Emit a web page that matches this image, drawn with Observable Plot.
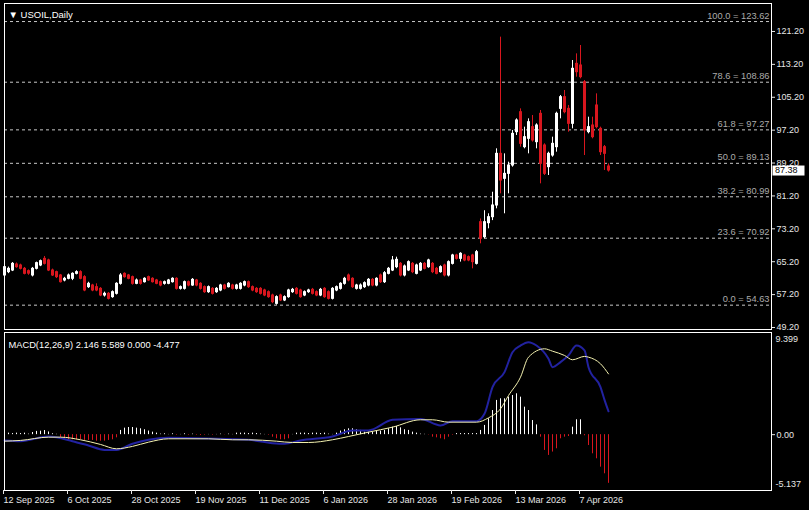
<!DOCTYPE html>
<html><head><meta charset="utf-8">
<script src="https://cdn.jsdelivr.net/npm/d3@7"></script>
<script src="https://cdn.jsdelivr.net/npm/@observablehq/plot@0.6"></script>
<style>
html,body{margin:0;padding:0;background:#000;}
#wrap{position:relative;width:809px;height:510px;background:#000;overflow:hidden;}
#wrap svg{display:block;}
</style></head><body><div id="wrap"></div>
<script>
// ---- data (daily bars, index 0 = 12 Sep 2025) ----
const openP = [61.85,62.66,63.06,64.52,64.28,63.47,62.9,61.85,63.47,64.28,65.9,65.5,63.06,62.66,61.85,60.63,61.04,61.04,62.25,62.66,
61.44,59.01,59.41,59.01,58.6,56.98,57.39,56.58,57.39,59.82,62.25,61.85,61.44,59.82,60.63,60.22,61.44,61.04,60.63,60.22,
59.82,59.82,60.22,61.04,58.6,58.6,60.22,59.41,60.63,59.82,59.01,57.79,58.6,57.79,58.2,59.41,59.01,59.41,58.6,58.6,
59.41,60.22,59.01,58.6,58.6,58.2,57.79,56.98,54.95,56.98,55.77,56.58,57.79,58.6,58.2,56.98,57.79,58.36,57.79,56.98,
58.6,57.79,56.17,58.2,58.6,59.82,61.85,61.04,58.6,58.6,59.01,59.41,60.79,59.41,61.85,60.22,62.25,63.06,63.87,64.68,
61.85,63.06,64.68,62.25,63.06,64.68,63.87,64.68,63.47,62.66,64.28,61.85,64.68,66.71,65.9,66.71,66.31,66.71,64.68,74.82,
71.17,74.57,76.03,78.87,91.44,85.36,86.57,88.6,96.71,101.57,93.06,95.09,97.93,94.28,101.17,93.47,88.2,91.03,93.06,102.38,
105.22,102.38,98.74,113.33,112.93,108.87,96.71,98.33,103.2,97.52,93.06,88.36];
const highP = [64.2,63.9,65.0,64.9,64.6,63.8,63.2,63.8,65.1,65.6,66.47,65.8,63.4,62.9,62.1,61.4,62.2,62.5,63.0,63.0,
61.8,60.2,59.7,59.82,58.9,57.8,57.7,58.1,60.1,62.3,62.5,62.1,61.7,61.0,60.9,61.3,61.7,61.3,60.9,60.5,
60.5,60.9,61.3,61.3,59.3,60.5,60.5,61.1,60.9,60.1,59.3,59.3,58.9,58.9,59.7,59.7,60.1,59.7,59.7,60.1,
60.5,60.5,59.3,58.9,58.9,58.5,58.1,57.3,56.9,57.3,56.9,58.5,58.7,58.9,58.5,58.1,58.5,58.7,58.1,58.7,
58.9,58.1,58.9,59.3,60.1,61.4,62.2,61.3,59.7,59.8,60.3,61.1,61.1,61.3,62.2,62.8,63.8,66.47,66.3,65.0,
64.4,65.4,65.0,64.6,65.0,65.0,65.8,65.0,63.8,64.2,64.6,65.4,67.0,67.0,67.4,67.0,66.6,67.0,67.93,75.6,
77.6,76.85,82.1,92.66,119.82,91.44,89.41,97.12,99.95,102.38,97.93,99.95,100.76,98.74,101.98,93.87,91.84,95.49,101.57,105.63,
106.85,103.2,114.14,115.76,117.79,109.28,100.36,100.36,106.03,97.93,93.47,89.0];
const lowP = [61.5,62.3,62.8,63.6,63.2,62.0,61.9,61.5,63.2,64.0,64.4,62.8,61.6,61.1,60.0,60.3,60.8,60.6,62.0,60.8,
57.9,58.7,57.9,57.9,56.7,56.6,55.9,56.3,57.1,59.5,61.2,60.8,59.5,59.6,59.5,60.0,60.4,60.0,59.6,59.1,
59.5,59.6,60.0,58.3,58.3,58.3,59.1,59.2,59.1,58.3,57.5,57.5,57.1,57.5,57.9,58.3,58.8,58.3,58.3,58.3,
59.1,58.7,57.9,57.5,57.1,56.7,56.3,55.0,54.63,55.5,55.5,56.3,57.5,57.1,56.3,56.7,57.5,57.1,56.7,56.7,
56.3,55.9,55.9,57.9,58.3,59.5,60.3,58.7,58.3,58.3,58.7,59.1,59.1,59.1,59.9,59.9,62.0,62.8,63.5,61.5,
61.5,62.8,62.3,62.0,62.8,63.2,63.6,62.3,62.0,62.4,61.5,61.5,64.4,65.6,65.1,65.2,65.2,63.47,64.4,69.55,
70.76,73.2,75.2,78.06,81.71,76.85,81.71,88.2,95.9,93.06,92.66,91.44,94.28,92.66,84.14,86.17,86.17,90.63,91.84,99.95,
101.17,96.71,97.52,110.09,109.68,91.03,96.3,95.09,97.52,91.03,87.39,87.0];
const closeP = [63.87,63.47,64.68,63.87,63.47,62.25,62.3,63.47,64.85,65.33,64.68,63.06,61.85,61.44,60.22,61.04,61.85,62.25,62.66,61.04,
58.2,59.82,58.2,58.2,56.98,57.39,56.17,57.79,59.82,61.85,61.44,61.04,59.82,60.63,59.82,61.04,60.63,60.22,59.82,59.41,
60.22,60.63,61.04,58.6,59.01,60.22,59.41,60.79,59.41,58.6,57.79,59.01,57.39,58.6,59.41,58.6,59.82,58.6,59.41,59.82,
60.22,59.01,58.2,57.79,57.39,56.98,56.58,55.36,56.58,55.77,56.58,58.2,58.36,57.39,56.58,57.79,58.2,57.39,56.98,58.36,
56.58,56.17,58.6,59.01,59.82,61.04,60.63,59.01,59.41,59.41,59.98,60.79,59.41,61.04,60.22,62.41,63.47,65.5,65.66,61.85,
64.04,65.09,62.66,64.28,64.68,63.47,65.5,62.66,62.25,63.87,61.85,65.09,66.71,65.9,67.12,65.5,65.5,65.09,67.52,70.76,
74.82,76.03,78.87,91.44,84.95,86.57,88.6,96.3,99.55,93.87,95.49,99.14,94.68,98.33,89.01,86.57,91.44,93.87,101.17,105.22,
101.57,98.74,112.12,111.3,110.09,97.12,97.93,95.49,97.93,91.84,91.44,87.38];

// MACD histogram, one value per bar
const macdHist = [0,0.14,0.1,0.14,0.1,0.14,0.05,0.2,0.3,0.32,0.38,0.25,0.08,0.03,-0.29,-0.38,-0.47,-0.47,-0.47,-0.47,
-0.53,-0.53,-0.53,-0.6,-0.6,-0.6,-0.53,-0.47,-0.29,0.39,0.6,0.66,0.66,0.6,0.54,0.45,0.33,0.23,0.14,0.05,
0.08,0.02,0.08,-0.05,0.02,0.08,-0.05,0.05,-0.05,-0.08,-0.05,0.02,-0.05,0.02,0.05,-0.02,0.05,0.02,0.14,0.14,
0.14,0.1,0.14,0.1,0.05,0.02,-0.05,-0.23,-0.38,-0.47,-0.47,-0.38,0.02,0.14,0.14,0.14,0.1,0.14,0.14,0.1,
0.14,0.05,0.02,0.14,0.33,0.45,0.54,0.54,0.45,0.39,0.23,0.23,0.23,0.33,0.33,0.39,0.54,0.69,0.75,0.63,
0.45,0.39,0.23,0.14,0.05,0.03,-0.03,-0.23,-0.29,-0.38,-0.47,-0.23,-0.05,0.1,0.1,0.1,0.1,0.1,0.1,0.39,
0.85,1.46,2.22,3.15,3.3,3.3,3.45,3.6,3.76,3.45,2.53,2.22,1.3,0.9,-0.23,-1.45,-1.91,-1.6,-1.3,-0.38,
-0.23,-0.17,0.69,1.37,1.37,-0.1,-1.0,-1.76,-2.22,-2.99,-3.6,-4.477];
// MACD main line (read at these bars)
const mainIdx = [0,4,11,17,21,25,28,32,36,41,51,61,67,70,74,82,87,91,97,104,109,112,118,120,122,125,127,129,131,133,136,137,139,141,143,145,146,149,150,151];
const mainVal = [-0.53,-0.6,-0.17,-0.6,-1.0,-1.4,-1.4,-0.84,-0.47,-0.29,-0.35,-0.47,-0.78,-0.84,-0.53,-0.17,0.39,0.39,1.37,1.45,0.85,1.24,1.24,1.92,4.37,5.75,7.59,8.2,8.51,8.2,6.98,6.21,6.67,7.29,8.2,7.75,6.21,4.37,3.2,2.146];
// MACD signal line (read at these bars)
const sigIdx = [0,4,11,14,19,24,28,32,36,41,51,57,61,68,72,76,82,86,91,97,104,107,111,118,121,124,126,129,131,135,137,140,142,145,146,149,151];
const sigVal = [-0.6,-0.53,-0.23,-0.23,-0.47,-0.9,-1.3,-1.08,-0.69,-0.38,-0.38,-0.47,-0.47,-0.6,-0.72,-0.72,-0.47,-0.17,0.23,0.69,1.37,1.37,1.15,1.15,1.55,2.38,3.6,5.29,7.13,7.9,7.68,7.29,6.89,7.2,7.13,6.52,5.589];

const fibLevels = ["100.0","78.6","61.8","50.0","38.2","23.6","0.0"];
const fibValues = [123.62,108.86,97.27,89.13,80.99,70.92,54.63];
const priceTicks = [49.2,57.2,65.2,73.2,81.2,89.2,97.2,105.2,113.2,121.2];
const timeTickIdx = [0,16,32,48,64,80,96,112,128,144];
const timeTickLabels = ["12 Sep 2025","6 Oct 2025","28 Oct 2025","19 Nov 2025","11 Dec 2025","6 Jan 2026","28 Jan 2026","19 Feb 2026","13 Mar 2026","7 Apr 2026"];
const symbolTitle = "USOIL,Daily";
const macdTitle = "MACD(12,26,9) 2.146 5.589 0.000 -4.477";
const macdMax = 9.399, macdMin = -5.137;
const lastPrice = 87.38;

// ---- build ----
const UP = "#ffffff", DN = "#d8161e";
const bars = openP.map((o, i) => ({i, open: o, high: highP[i], low: lowP[i], close: closeP[i], up: closeP[i] >= o}));
const fibs = fibLevels.map((l, k) => ({level: l, value: fibValues[k]}));
const hist = macdHist.map((v, i) => ({i, v}));
const mainLine = mainIdx.map((i, k) => ({i, v: mainVal[k]}));
const sigLine = sigIdx.map((i, k) => ({i, v: sigVal[k]}));
const labelMap = new Map(timeTickIdx.map((d, k) => [d, timeTickLabels[k]]));
const xDomain = [0, 191.75];
const FONT = "'Liberation Sans', Arial, sans-serif";

const wrap = document.getElementById("wrap");

const main = Plot.plot({
  width: 809, height: 331,
  marginLeft: 4, marginRight: 38, marginTop: 3, marginBottom: 2,
  style: {background: "#000", color: "#e6e6e6", fontFamily: FONT, fontSize: "9px", overflow: "visible"},
  x: {domain: xDomain, axis: null},
  y: {domain: [48.71, 127.52], range: [329, 5], axis: null},
  marks: [
    Plot.ruleY(fibs, {y: "value", stroke: "#c8c8c8", strokeDasharray: "3,3", strokeWidth: 1}),
    Plot.text(fibs, {y: "value", text: d => `${d.level} = ${d.value.toFixed(2)}`, frameAnchor: "right", textAnchor: "end", dx: -2, dy: -6, fill: "#ababab", fontSize: 9.3}),
    Plot.ruleX(bars, {x: "i", y1: "low", y2: "high", stroke: d => d.up ? UP : DN, strokeWidth: 1}),
    Plot.rect(bars, {x1: d => d.i - 0.25, x2: d => d.i + 0.5, y1: d => Math.min(d.open, d.close), y2: d => Math.max(d.open, d.close), fill: d => d.up ? UP : DN, insetTop: -0.5, insetBottom: -0.5}),
    Plot.frame({stroke: "#ffffff"}),
    Plot.axisY({anchor: "right", ticks: priceTicks, tickFormat: d => d.toFixed(2), tickSize: 3, tickPadding: 2, fontSize: 9, label: null}),
    Plot.text([symbolTitle], {text: d => "\u25BC " + d, frameAnchor: "top-left", textAnchor: "start", dx: 4, dy: 8, fill: "#ffffff", fontSize: 9.5})
  ]
});
wrap.appendChild(main);

// current price box, positioned with the plot's own y scale
const py = main.scale("y").apply(lastPrice);
const sel = d3.select(main);
sel.append("rect").attr("x", 772.5).attr("y", py - 4.5).attr("width", 32).attr("height", 10).attr("fill", "#ffffff");
sel.append("text").attr("x", 775).attr("y", py + 0.5).attr("dy", "0.32em").attr("text-anchor", "start").attr("fill", "#000").attr("font-size", 9).attr("font-family", FONT).text(lastPrice.toFixed(2));

const macd = Plot.plot({
  width: 809, height: 179,
  marginLeft: 4, marginRight: 38, marginTop: 1, marginBottom: 20,
  style: {background: "#000", color: "#e6e6e6", fontFamily: FONT, fontSize: "9px", overflow: "visible"},
  x: {domain: xDomain, axis: null},
  y: {domain: [macdMin, macdMax], axis: null},
  marks: [
    Plot.ruleX(hist, {x: "i", y1: 0, y2: "v", stroke: d => d.v >= 0 ? "#ffffff" : DN, strokeWidth: 1}),
    Plot.line(mainLine, {x: "i", y: "v", stroke: "#2222a0", strokeWidth: 2, curve: "monotone-x"}),
    Plot.line(sigLine, {x: "i", y: "v", stroke: "#f4f2b0", strokeWidth: 1, curve: "monotone-x"}),
    Plot.frame({stroke: "#ffffff"}),
    Plot.axisY({anchor: "right", ticks: [0], tickFormat: d => d.toFixed(2), tickSize: 3, tickPadding: 2, fontSize: 9, label: null}),
    Plot.text([macdMax], {y: d => d, text: d => d.toFixed(3), frameAnchor: "right", textAnchor: "start", dx: 4, dy: 7, fill: "#e6e6e6", fontSize: 9}),
    Plot.text([macdMin], {y: d => d, text: d => d.toFixed(3), frameAnchor: "right", textAnchor: "start", dx: 4, dy: -6, fill: "#e6e6e6", fontSize: 9}),
    Plot.axisX({ticks: timeTickIdx, tickFormat: d => labelMap.get(d), tickSize: 4, tickPadding: 2, textAnchor: "start", dx: -1, fontSize: 9, label: null}),
    Plot.text([macdTitle], {frameAnchor: "top-left", textAnchor: "start", dx: 4, dy: 9, fill: "#ffffff", fontSize: 9.3})
  ]
});
wrap.appendChild(macd);
</script>
</body></html>
